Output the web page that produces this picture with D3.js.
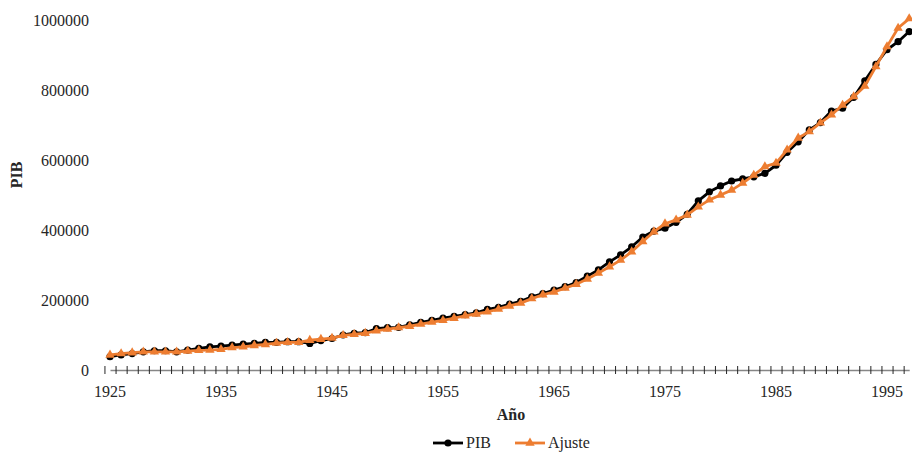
<!DOCTYPE html>
<html lang="es">
<head>
  <meta charset="UTF-8">
  <title>PIB y Ajuste</title>
  <script src="https://cdn.jsdelivr.net/npm/d3@7"></script>
  <style>
    body { margin: 0; background: #fff; }
    svg text { font-family: 'Liberation Serif', 'Times New Roman', 'DejaVu Serif', serif !important; fill: #262626; }
  </style>
</head>
<body>
  <script type="text/javascript">

  //Width and height
  var w = 912;
  var h = 452;

  // Years on the category axis
  var years = d3.range(1925, 1998);

  // Observed series
  var pib = [
    38000, 43000, 47000, 52000, 55000, 55000, 52000, 57000, 62000, 66000,
    68000, 71000, 74000, 76000, 79000, 79000, 81000, 81000, 76000, 84000,
    90000, 100000, 105000, 107000, 118000, 121000, 122000, 129000, 136000, 142000,
    148000, 153000, 158000, 163000, 173000, 179000, 188000, 196000, 209000, 218000,
    228000, 238000, 250000, 268000, 286000, 309000, 329000, 352000, 380000, 397000,
    405000, 422000, 445000, 483000, 509000, 526000, 540000, 546000, 552000, 562000,
    585000, 622000, 652000, 686000, 707000, 740000, 748000, 779000, 826000, 873000,
    915000, 938000, 967000
  ];

  // Fitted series
  var ajuste = [
    43000, 47000, 49500, 52000, 52000, 52000, 52000, 54000, 56000, 57000,
    59000, 64000, 66000, 70000, 73000, 77000, 79000, 79000, 85000, 88000,
    91000, 99000, 102000, 105000, 112000, 117000, 121000, 125000, 131000, 137000,
    142000, 148000, 155000, 160000, 166000, 174000, 183000, 191000, 204000, 215000,
    223000, 234000, 245000, 260000, 277000, 295000, 314000, 338000, 367000, 395000,
    418000, 429000, 443000, 466000, 486000, 500000, 514000, 534000, 557000, 581000,
    591000, 629000, 663000, 681000, 706000, 729000, 757000, 781000, 811000, 867000,
    924000, 977000, 1004000
  ];

  var yTicks = [0, 200000, 400000, 600000, 800000, 1000000];
  var xLabelYears = [1925, 1935, 1945, 1955, 1965, 1975, 1985, 1995];

  var step = 11.1;
  var x0 = 110;

  //Create scale functions
  var xScale = d3.scaleLinear()
                 .domain([1925, 1997])
                 .range([x0, x0 + 72 * step]);

  var yScale = d3.scaleLinear()
                 .domain([0, 1000000])
                 .range([370, 20]);

  //Create SVG element
  var svg = d3.select("body")
        .append("svg")
        .attr("width", w)
        .attr("height", h)
        .attr("font-family", "Liberation Serif");

  // Y labels (no axis line in the original)
  var yAxis = d3.axisLeft(yScale)
                .tickValues(yTicks)
                .tickSize(0)
                .tickPadding(0)
                .tickFormat(d3.format("d"));

  var gy = svg.append("g")
     .attr("transform", "translate(89,0)")
     .call(yAxis)
     .attr("font-family", null)
     .attr("font-size", null);
  gy.select(".domain").remove();
  gy.selectAll("text")
    .style("font-size", "16px");

  // X axis: line with ticks between the categories
  var boundaries = d3.range(1924.5, 1998, 1);
  var xAxis = d3.axisBottom(xScale)
                .tickValues(boundaries)
                .tickSizeInner(4)
                .tickSizeOuter(0)
                .tickFormat("");

  var gx = svg.append("g")
     .attr("transform", "translate(0,370)")
     .call(xAxis);
  gx.select(".domain")
    .attr("stroke", "#868686")
    .attr("stroke-width", 1.3);
  gx.selectAll(".tick line")
    .attr("stroke", "#262626")
    .attr("y1", -4)
    .attr("y2", 4);

  // year labels every 10 years
  svg.selectAll(".xlab")
     .data(xLabelYears)
     .enter()
     .append("text")
     .attr("class", "xlab")
     .attr("x", function(d) { return xScale(d); })
     .attr("y", 397)
     .style("text-anchor", "middle")
     .style("font-size", "16px")
     .text(function(d) { return d; });

  //Line generator
  var line = d3.line()
               .x(function(d, i) { return xScale(years[i]); })
               .y(function(d) { return yScale(d); });

  // PIB line + dots
  svg.append("path")
     .datum(pib)
     .attr("fill", "none")
     .attr("stroke", "#000")
     .attr("stroke-width", 2.8)
     .attr("stroke-linejoin", "round")
     .attr("d", line);

  svg.selectAll(".pib")
     .data(pib)
     .enter()
     .append("circle")
     .attr("class", "pib")
     .attr("cx", function(d, i) { return xScale(years[i]); })
     .attr("cy", function(d) { return yScale(d); })
     .attr("r", 3.6)
     .attr("fill", "#000");

  // Ajuste line + triangles
  var orange = "#ED7D31";
  var tri = d3.symbol().type(d3.symbolTriangle).size(38);

  svg.append("path")
     .datum(ajuste)
     .attr("fill", "none")
     .attr("stroke", orange)
     .attr("stroke-width", 2.8)
     .attr("stroke-linejoin", "round")
     .attr("d", line);

  svg.selectAll(".aj")
     .data(ajuste)
     .enter()
     .append("path")
     .attr("class", "aj")
     .attr("d", tri)
     .attr("transform", function(d, i) {
        return "translate(" + xScale(years[i]) + "," + yScale(d) + ")";
     })
     .attr("fill", orange);

  // axis titles
  svg.append("text")
     .attr("transform", "translate(22,175) rotate(-90)")
     .style("text-anchor", "middle")
     .style("font-size", "16px")
     .style("font-weight", "bold")
     .text("PIB");

  svg.append("text")
     .attr("x", 511)
     .attr("y", 420)
     .style("text-anchor", "middle")
     .style("font-size", "16px")
     .style("font-weight", "bold")
     .text("Año");

  // legend
  var legend = svg.append("g").attr("transform", "translate(0,443)");

  legend.append("line")
     .attr("x1", 433).attr("x2", 463)
     .attr("stroke", "#000").attr("stroke-width", 2.8);
  legend.append("circle")
     .attr("cx", 448).attr("r", 3.6).attr("fill", "#000");
  legend.append("text")
     .attr("x", 466).attr("y", 5)
     .style("font-size", "16px")
     .text("PIB");

  legend.append("line")
     .attr("x1", 515).attr("x2", 545)
     .attr("stroke", orange).attr("stroke-width", 2.8);
  legend.append("path")
     .attr("d", tri)
     .attr("transform", "translate(530,0)")
     .attr("fill", orange);
  legend.append("text")
     .attr("x", 548).attr("y", 5)
     .style("font-size", "16px")
     .text("Ajuste");

  </script>
</body>
</html>
